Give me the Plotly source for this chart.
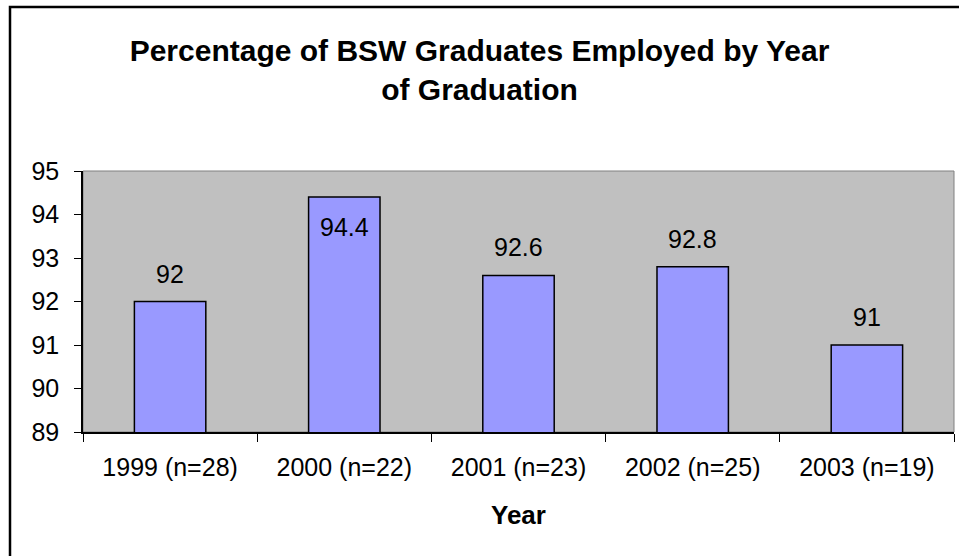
import plotly.graph_objects as go

categories = ["1999 (n=28)", "2000 (n=22)", "2001 (n=23)", "2002 (n=25)", "2003 (n=19)"]
values = [92, 94.4, 92.6, 92.8, 91]
y_ticks = [89, 90, 91, 92, 93, 94, 95]
title_text = "Percentage of BSW Graduates Employed by Year<br>of Graduation"
x_title = "Year"

W, H = 959, 556
ML, MR, MT, MB = 83, 5, 171, 124
pw, ph = W - ML - MR, H - MT - MB
ymin, ymax = y_ticks[0], y_ticks[-1]
px_per_unit = ph / (ymax - ymin)

FONT = "Liberation Sans, Arial, sans-serif"

fig = go.Figure()
fig.add_trace(go.Bar(
    x=categories, y=values,
    marker=dict(color="#9999FF", line=dict(color="black", width=1.5)),
    width=0.41, hoverinfo="skip",
))

annotations = []
for c, v in zip(categories, values):
    above = v + (27 + 10) / px_per_unit <= ymax
    annotations.append(dict(
        x=c, y=v, xref="x", yref="y", text=str(v), showarrow=False,
        yanchor="middle", yshift=28 if above else -30,
        font=dict(family=FONT, size=25, color="black"),
    ))
annotations.append(dict(
    x=0.5, y=-(515 - (MT + ph)) / ph, xref="paper", yref="paper",
    text="<b>" + x_title + "</b>", showarrow=False, yanchor="middle",
    font=dict(family=FONT, size=26, color="black"),
))

shapes = [
    dict(type="rect", xref="x domain", yref="y domain", x0=0, x1=1, y0=0, y1=1,
         line=dict(color="#808080", width=1), layer="below"),
    dict(type="rect", xref="paper", yref="paper",
         x0=(10 - ML) / pw, x1=(W + 20 - ML) / pw,
         y0=-(H + 20 - (MT + ph)) / ph, y1=1 + (MT - 7) / ph,
         line=dict(color="black", width=2.5)),
]

fig.update_layout(
    width=W, height=H,
    margin=dict(l=ML, r=MR, t=MT, b=MB),
    paper_bgcolor="white", plot_bgcolor="#C0C0C0",
    showlegend=False,
    title=dict(text="<b>" + title_text + "</b>", x=0.5, xref="container", xanchor="center",
               y=1 - 61 / H, yref="container", yanchor="top",
               font=dict(family=FONT, size=30, color="black")),
    annotations=annotations, shapes=shapes,
    bargap=0.59,
)
fig.update_xaxes(
    type="category", range=[-0.5, len(categories) - 0.5],
    showline=True, linecolor="black", linewidth=1.5,
    ticks="outside", tickson="boundaries", ticklen=8, tickcolor="black", tickwidth=1,
    showgrid=False, ticklabelstandoff=12,
    tickfont=dict(family=FONT, size=25, color="black"),
)
fig.update_yaxes(
    range=[ymin, ymax], tickvals=y_ticks,
    showline=True, linecolor="black", linewidth=1.5,
    ticks="outside", ticklen=7, tickcolor="black", tickwidth=1,
    showgrid=False, zeroline=False, ticklabelstandoff=10,
    tickfont=dict(family=FONT, size=25, color="black"),
)

fig.write_html("out.html", config={"displayModeBar": False})
